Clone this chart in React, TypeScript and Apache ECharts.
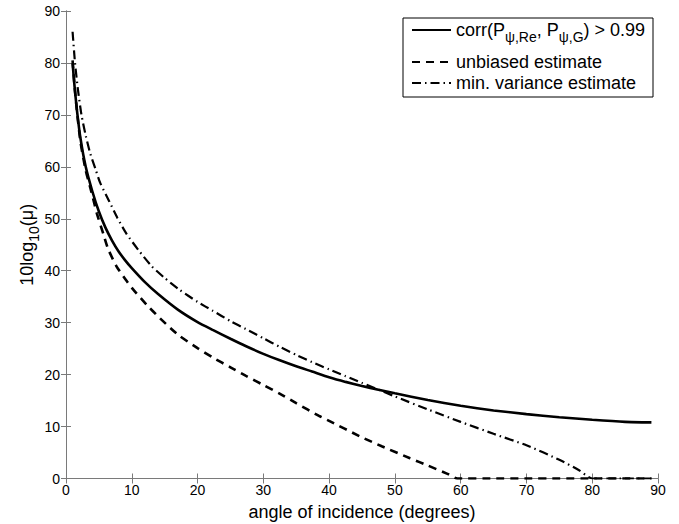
import React, { useEffect, useRef } from "react";
import * as echarts from "echarts";

// ---- data ----
const solidX = [1, 1.3, 1.7, 2.2, 3, 4, 5, 6, 7, 8, 9, 10, 12, 14, 17, 20, 22.3, 25, 27.3, 30, 32.4, 35, 37.4, 40, 42.5, 45, 47.5, 50, 55, 60, 65, 70, 75, 80, 85, 89];
const solidY = [80, 75.5, 70.5, 65.5, 60, 55.3, 51.4, 48.3, 45.8, 43.7, 42, 40.5, 37.8, 35.5, 32.5, 30.1, 28.6, 26.9, 25.5, 24, 22.8, 21.6, 20.6, 19.5, 18.6, 17.8, 17.1, 16.4, 15.1, 14, 13.1, 12.4, 11.8, 11.3, 10.9, 10.8];

const unbiasedX = [1, 1.3, 1.7, 2.2, 3, 3.6, 4, 4.7, 5.7, 6.4, 7.7, 9, 10.2, 12.3, 14, 15.5, 17.2, 20, 22.3, 25, 27.3, 30, 32.4, 35, 38.4, 40, 44.7, 48, 52.3, 55, 58, 59.5, 65, 70, 75, 80, 85, 89];
const unbiasedY = [80.5, 75.5, 70.3, 64.8, 59.3, 56.4, 54.5, 51, 47, 44.2, 40.8, 38.4, 36.4, 33.4, 31.2, 29.4, 27.5, 25.1, 23.3, 21.4, 19.8, 18, 16.4, 14.5, 12.1, 11.1, 8.1, 6.2, 3.9, 2.5, 0.9, 0, 0, 0, 0, 0, 0, 0];

const minVarX = [1, 1.37, 1.8, 2.35, 3, 3.7, 4.5, 5.2, 6.6, 7.8, 9.2, 11, 13, 15, 17.3, 20, 22.3, 25, 27.3, 30, 32.4, 35, 37.4, 40, 42.5, 45, 47.5, 50, 55, 60, 65, 70, 75, 78, 80, 85, 89];
const minVarY = [86, 80, 75, 70, 66, 62.5, 59.5, 56.9, 53.3, 50.2, 47.1, 44, 40.9, 38.6, 36.3, 34, 32.3, 30.3, 28.8, 27, 25.4, 23.8, 22.4, 21, 19.7, 18.4, 17.1, 15.8, 13.3, 10.9, 8.6, 6.4, 3.6, 1.6, 0, 0, 0];

const seriesNames = ["corr", "unbiased estimate", "min. variance estimate"];
const legendLabels = [
  "corr(P{sub|ψ,Re}, P{sub|ψ,G}) > 0.99",
  "unbiased estimate",
  "min. variance estimate",
];

const xTicks = { min: 0, max: 90, interval: 10 };
const yTicks = { min: 0, max: 90, interval: 10 };

const FONT = "'Liberation Sans', Arial, Helvetica, sans-serif";

function pairs(xs: number[], ys: number[]) {
  return xs.map((x, i) => [x, ys[i]]);
}

export default function App() {
  const ref = useRef<HTMLDivElement>(null);
  useEffect(() => {
    if (!ref.current) return;
    const chart = echarts.init(ref.current, undefined, { renderer: "svg" });
    const axisColor = "#7a7a7a";
    const baseAxis = {
      type: "value" as const,
      splitLine: { show: false },
      axisLine: { show: true, lineStyle: { color: axisColor, width: 1 } },
      axisTick: { show: true, inside: true, length: 5, lineStyle: { color: axisColor } },
    };
    const legendText = {
      fontFamily: FONT,
      fontSize: 18,
      color: "#000",
      lineHeight: 20,
      rich: {
        sub: { fontSize: 14, fontFamily: FONT, color: "#000", verticalAlign: "bottom" as const, lineHeight: 28 },
      },
    };
    const legendCommon = {
      orient: "vertical" as const,
      left: 411,
      padding: 0,
      itemGap: 1,
      itemWidth: 39,
      itemHeight: 14,
      itemStyle: { opacity: 0 },
      formatter: (name: string) => legendLabels[seriesNames.indexOf(name)],
      textStyle: legendText,
    };
    chart.setOption({
      animation: false,
      backgroundColor: "#ffffff",
      textStyle: { fontFamily: FONT },
      grid: { left: 66, right: 21, top: 11, bottom: 45.5, containLabel: false, outerBoundsMode: "none" },
      graphic: [
        {
          type: "rect",
          z: 3,
          shape: { x: 403, y: 18, width: 250, height: 79 },
          style: { fill: "#ffffff", stroke: "#000000", lineWidth: 1 },
        },
      ],
      legend: [
        { ...legendCommon, top: 16, data: [seriesNames[0]] },
        { ...legendCommon, top: 52, data: [seriesNames[1], seriesNames[2]] },
      ],
      xAxis: [
        {
          ...baseAxis,
          position: "bottom",
          ...xTicks,
          name: "angle of incidence (degrees)",
          nameLocation: "middle",
          nameGap: 24,
          nameTextStyle: { fontSize: 18, color: "#000", fontFamily: FONT },
          axisLabel: { color: "#000", fontSize: 14, margin: 4, fontFamily: FONT },
        },
        {
          ...baseAxis,
          position: "top",
          ...xTicks,
          axisLabel: { show: false },
        },
      ],
      yAxis: [
        {
          ...baseAxis,
          position: "left",
          ...yTicks,
          name: "10log{sub|10}(μ)",
          nameLocation: "middle",
          nameGap: 25,
          nameMoveOverlap: false,
          nameRotate: 90,
          nameTextStyle: {
            fontSize: 18,
            color: "#000",
            fontFamily: FONT,
            lineHeight: 20,
            rich: { sub: { fontSize: 14, fontFamily: FONT, color: "#000", verticalAlign: "bottom", lineHeight: 28 } },
          },
          axisLabel: { color: "#000", fontSize: 14, margin: 6, fontFamily: FONT },
        },
        {
          ...baseAxis,
          position: "right",
          ...yTicks,
          axisLabel: { show: false },
        },
      ],
      series: [
        {
          name: seriesNames[0],
          type: "line",
          data: pairs(solidX, solidY),
          showSymbol: false,
          symbol: "none",
          smooth: 0.2,
          lineStyle: { color: "#000", width: 2.6, type: "solid" },
          itemStyle: { color: "#000" },
        },
        {
          name: seriesNames[1],
          type: "line",
          data: pairs(unbiasedX, unbiasedY),
          showSymbol: false,
          symbol: "none",
          smooth: 0.2,
          lineStyle: { color: "#000", width: 2.6, type: [8, 6] },
          itemStyle: { color: "#000" },
        },
        {
          name: seriesNames[2],
          type: "line",
          data: pairs(minVarX, minVarY),
          showSymbol: false,
          symbol: "none",
          smooth: 0.2,
          lineStyle: { color: "#000", width: 2.2, type: [9, 4, 1.5, 4] },
          itemStyle: { color: "#000" },
        },
      ],
    });
    return () => chart.dispose();
  }, []);
  return <div ref={ref} style={{ width: 679, height: 524, position: "absolute", left: 0, top: 0 }} />;
}
